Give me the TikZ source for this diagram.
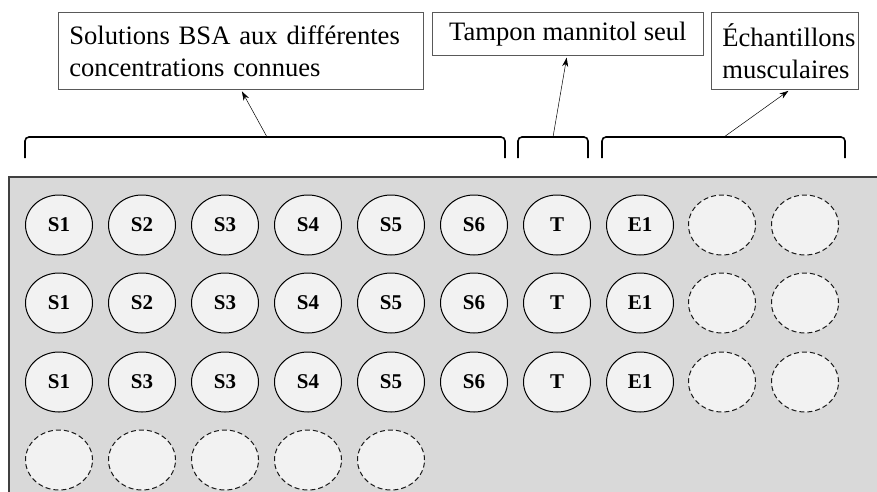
\documentclass[tikz,border=0pt]{standalone}
\usepackage{fontspec}
\setmainfont{Liberation Serif}
\usetikzlibrary{shapes.geometric,arrows.meta}
\definecolor{platefill}{HTML}{D9D9D9}
\definecolor{plateedge}{HTML}{404040}
\definecolor{wellfill}{HTML}{F2F2F2}
\definecolor{boxedge}{HTML}{595959}
\tikzset{
  well/.style={ellipse, draw=black, line width=1pt, fill=wellfill, minimum width=67pt, minimum height=60pt, inner sep=0pt, font=\fontsize{21}{24}\selectfont\bfseries},
  emptywell/.style={well, draw=black!90, line width=1pt, dash pattern=on 5pt off 3pt},
  labelbox/.style={draw=boxedge, line width=0.7pt, fill=white, inner sep=0pt, anchor=north west, font=\fontsize{26.6}{32}\selectfont},
  bracket/.style={line width=1.6pt, rounded corners=4pt},
  pointer/.style={-{Stealth[length=9pt,width=6pt]}, line width=0.5pt, shorten >=2pt}
}
\begin{document}
\begin{tikzpicture}[x=1pt,y=-1pt]
\useasboundingbox (0,0) rectangle (877,491);
% plate
\fill[platefill] (9,177) rectangle (880,495);
\draw[plateedge, line width=1.5pt] (9,495) -- (9,177) -- (880,177);
% wells
\foreach \lab [count=\i] in {S1,S2,S3,S4,S5,S6,T,E1}{
  \node[well] (r1c\i) at ({59+83*(\i-1)},225) {\lab};
}
\foreach \lab [count=\i] in {S1,S2,S3,S4,S5,S6,T,E1}{
  \node[well] (r2c\i) at ({59+83*(\i-1)},303) {\lab};
}
\foreach \lab [count=\i] in {S1,S3,S3,S4,S5,S6,T,E1}{
  \node[well] (r3c\i) at ({59+83*(\i-1)},382) {\lab};
}
\foreach \r/\y in {1/225,2/303,3/382}{
  \node[emptywell] (r\r c9) at (722,\y) {};
  \node[emptywell] (r\r c10) at (805,\y) {};
}
\foreach \i in {1,...,5}{
  \node[emptywell] (r4c\i) at ({59+83*(\i-1)},460) {};
}
% brackets
\draw[bracket] (25,158) -- (25,137) -- (505,137) -- (505,158);
\draw[bracket] (518,158) -- (518,137) -- (588,137) -- (588,158);
\draw[bracket] (602,158) -- (602,137) -- (845,137) -- (845,158);
\coordinate (b1) at (267,137);
\coordinate (b2) at (553,137);
\coordinate (b3) at (724,137);
% label boxes
\node[labelbox, minimum width=365pt, minimum height=77pt, text width=343pt, align=left, inner xsep=11pt] (box1) at (58,12)
  {Solutions BSA aux différentes\\concentrations connues};
\node[labelbox, minimum width=271pt, minimum height=43pt, align=center] (box2) at (432,12)
  {Tampon mannitol seul};
\node[labelbox, minimum width=147pt, minimum height=77pt, text width=125pt, align=left, inner xsep=11pt] (box3) at (711,12)
  {Échantillons\\musculaires};
% pointers
\draw[pointer] (b1) -- (241,0 |- box1.south);
\draw[pointer] (b2) -- (567,0 |- box2.south);
\draw[pointer] (b3) -- (790,0 |- box3.south);
\end{tikzpicture}
\end{document}
